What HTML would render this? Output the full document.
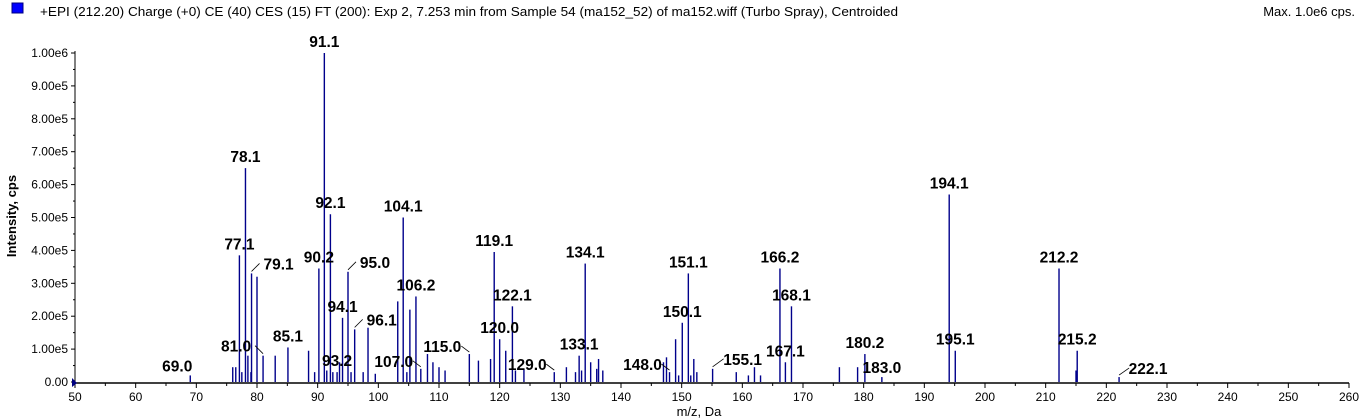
<!DOCTYPE html>
<html><head><meta charset="utf-8"><style>
body{margin:0;background:#fff;width:1360px;height:418px;overflow:hidden}
svg{display:block;font-family:"Liberation Sans",Arial,sans-serif}
</style></head><body>
<svg id="chart" width="1360" height="418">
<rect x="12" y="3" width="11" height="10" fill="#0000ff" stroke="#000080"/>
<text x="40" y="16" font-size="13" textLength="858" lengthAdjust="spacingAndGlyphs" fill="#000">+EPI (212.20) Charge (+0) CE (40) CES (15) FT (200): Exp 2, 7.253 min from Sample 54 (ma152_52) of ma152.wiff (Turbo Spray), Centroided</text>
<text x="1355" y="16" font-size="13" text-anchor="end" fill="#000">Max. 1.0e6 cps.</text>
<text transform="translate(16,216) rotate(-90)" font-size="13" font-weight="bold" text-anchor="middle">Intensity, cps</text>
<text x="699" y="416" font-size="13" text-anchor="middle">m/z, Da</text>
<g id="axes"></g><g id="bars"></g><g id="labels"></g>
</svg>
<script>
const mzValues=[69.0,76.0,76.5,77.1,77.5,78.1,78.5,79.0,79.1,80.0,81.0,83.0,85.1,88.5,89.5,90.2,91.1,91.5,92.1,92.5,93.2,93.6,94.1,95.0,95.5,96.1,97.5,98.3,99.5,103.2,104.1,104.7,105.2,106.2,107.0,108.1,109.0,110.0,111.0,115.0,116.5,118.5,119.1,120.0,121.0,122.1,122.6,124.0,129.0,131.0,132.5,133.1,133.5,134.1,135.0,136.0,136.3,137.0,147.0,147.5,148.0,149.0,149.5,150.1,151.1,151.5,152.0,152.5,155.1,159.0,161.0,162.0,163.0,166.2,167.1,168.1,176.0,179.0,180.2,183.0,194.1,195.1,212.2,215.0,215.2,222.1];
const intensities=[0.02,0.045,0.045,0.385,0.03,0.65,0.08,0.03,0.33,0.32,0.08,0.08,0.105,0.095,0.03,0.345,1.0,0.035,0.51,0.03,0.03,0.06,0.195,0.335,0.03,0.16,0.03,0.165,0.025,0.245,0.5,0.03,0.22,0.26,0.04,0.085,0.06,0.045,0.035,0.085,0.065,0.07,0.395,0.13,0.095,0.23,0.035,0.04,0.03,0.045,0.03,0.08,0.035,0.36,0.06,0.04,0.07,0.035,0.06,0.075,0.03,0.13,0.02,0.18,0.33,0.02,0.07,0.03,0.04,0.03,0.02,0.045,0.02,0.345,0.06,0.23,0.045,0.045,0.085,0.015,0.57,0.095,0.345,0.035,0.095,0.015].map(v=>v*1e6);
const labelTexts=["69.0","77.1","78.1","79.1","81.0","85.1","90.2","91.1","92.1","93.2","94.1","95.0","96.1","104.1","106.2","107.0","115.0","119.1","120.0","122.1","129.0","133.1","134.1","148.0","147.1","150.1","151.1","155.1","166.2","167.1","168.1","180.2","183.0","194.1","195.1","212.2","215.2","222.1"];
const labelOffsets={"69.0":[-13,4],"79.1":[27,4,1],"81.0":[-27,4,1],"93.2":[0,6],"95.0":[27,4,1],"96.1":[27,4,1],"107.0":[-27,2,1],"115.0":[-27,2,1],"129.0":[-27,2,1],"148.0":[-27,2,1],"147.1":[27,2,1],"155.1":[30,4,1],"183.0":[0,4],"222.1":[29,3,1],"91.1":[0,6]};
const tickLabelsY=["0.00","1.00e5","2.00e5","3.00e5","4.00e5","5.00e5","6.00e5","7.00e5","8.00e5","9.00e5","1.00e6"];
const X0=75,X1=1349,Y0=382,Y1=53,XMIN=50,XMAX=260,YMAX=1e6;
const xs=v=>X0+(v-XMIN)*(X1-X0)/(XMAX-XMIN);
const ys=v=>Y0-v*(Y0-Y1)/YMAX;
const NS="http://www.w3.org/2000/svg";
function mk(tag,attrs,parent){const e=document.createElementNS(NS,tag);for(const k in attrs)e.setAttribute(k,attrs[k]);parent.appendChild(e);return e;}
const axes=document.getElementById('axes'),bars=document.getElementById('bars'),labels=document.getElementById('labels');
let ax=mk('line',{x1:X0,y1:Y0+1,x2:X1,y2:Y0+1,stroke:'#000','stroke-width':1.5},axes);


let ay=mk('line',{x1:X0,y1:Y0+1,x2:X0,y2:Y1-2,stroke:'#000','stroke-width':1},axes);


for(let v=XMIN;v<=XMAX;v+=5){const x=xs(v);const major=v%10===0;
mk('line',{x1:x,y1:Y0+1,x2:x,y2:Y0+(major?6:4),stroke:'#000'},axes);
if(major){const t=mk('text',{x:x,y:Y0+19,'font-size':12,'text-anchor':'middle'},axes);t.textContent=v;

}}
tickLabelsY.forEach((s,i)=>{const v=i*1e5,y=ys(v);
mk('line',{x1:X0-4,y1:y,x2:X0,y2:y,stroke:'#000'},axes);
if(i<10)mk('line',{x1:X0-2,y1:ys(v+5e4),x2:X0,y2:ys(v+5e4),stroke:'#000'},axes);
const t=mk('text',{x:68,y:y+4,'font-size':12,'text-anchor':'end'},axes);t.textContent=s;

});
mk('path',{d:`M${X0-3},${Y0-4} L${X0+2},${Y0+1} L${X0-3},${Y0+5}Z`,fill:'#000080'},axes);
mzValues.forEach((m,i)=>{const b=mk('line',{x1:xs(m),y1:Y0,x2:xs(m),y2:ys(intensities[i]),stroke:'#00008b','stroke-width':1.4},bars);

});
labelTexts.forEach(s=>{const m=parseFloat(s);let idx=mzValues.indexOf(m);if(idx<0)return;
const px=xs(m),py=ys(intensities[idx]);const o=labelOffsets[s]||[0,6];
const cx=px+o[0],by=py-o[1];
if(o[2]){const dir=o[0]>0?1:-1;const ex=cx-dir*19;
const ln=mk('line',{x1:px,y1:py-2,x2:ex,y2:by-6,stroke:'#000','stroke-width':0.8},labels);

}
const t=mk('text',{x:cx,y:by,'font-size':15.5,'font-weight':'bold','text-anchor':'middle'},labels);t.textContent=s;

});
</script>
</body></html>
